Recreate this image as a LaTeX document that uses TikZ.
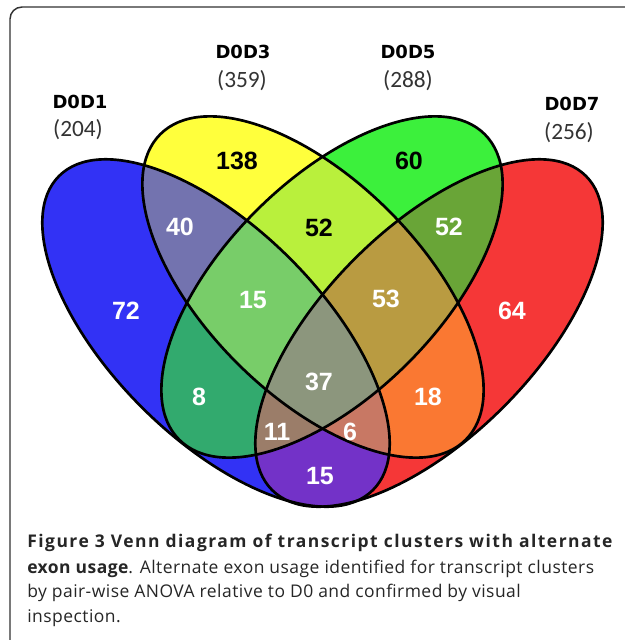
\documentclass[tikz,border=0pt]{standalone}
\usepackage{fontspec}
\setmainfont{Open Sans}
\newfontfamily\numfont{Liberation Sans}
\newfontfamily\lblfont{DejaVu Sans}
\newfontfamily\cntfont{Carlito}
\definecolor{colB}{RGB}{50,50,245}
\definecolor{colY}{RGB}{255,255,60}
\definecolor{colG}{RGB}{60,240,60}
\definecolor{colR}{RGB}{245,55,55}
\definecolor{colBY}{RGB}{115,115,175}
\definecolor{colBG}{RGB}{50,170,110}
\definecolor{colBR}{RGB}{115,50,200}
\definecolor{colYG}{RGB}{185,240,60}
\definecolor{colYR}{RGB}{250,120,50}
\definecolor{colGR}{RGB}{105,165,55}
\definecolor{colBYG}{RGB}{120,205,105}
\definecolor{colBYR}{RGB}{200,120,100}
\definecolor{colBGR}{RGB}{155,125,105}
\definecolor{colYGR}{RGB}{185,155,65}
\definecolor{colAll}{RGB}{140,150,125}
\definecolor{framec}{RGB}{50,50,50}
\def\EL{(0,0) ellipse [x radius=222,y radius=105]}
\def\EI{(0,0) ellipse [x radius=216,y radius=107.5]}
\tikzset{
  eB/.style={shift={(216,333)},rotate=-45},
  eY/.style={shift={(313,287)},rotate=-45},
  eG/.style={shift={(332,287)},rotate=45},
  eR/.style={shift={(429,333)},rotate=45},
  outl/.style={draw=black,line width=2pt},
  num/.style={font={\numfont\bfseries\fontsize{18.75}{20}\selectfont},text=white,inner sep=0pt},
  numk/.style={num,text=black},
  setlbl/.style={font={\lblfont\bfseries\fontsize{13.5}{15}\selectfont},text=black,inner sep=0pt},
  cnt/.style={font={\cntfont\fontsize{17.5}{19}\selectfont},text=black!80,inner sep=0pt},
  captext/.style={font={\fontsize{13.1}{15}\selectfont},text=black!85,inner sep=0pt,anchor=base west}
}
\begin{document}
\begin{tikzpicture}[x=0.75pt,y=-0.75pt]
\useasboundingbox (0,0) rectangle (625,640);
\clip (0,0) rectangle (625,640);
\fill[white] (0,0) rectangle (625,640);
\draw[framec,line width=1.1pt,rounded corners=9pt] (10,7) rectangle (660,680);
% singles
\fill[eB,colB]\EL;
\fill[eY,colY]\EI;
\fill[eG,colG]\EI;
\fill[eR,colR]\EL;
% pairs
\begin{scope}
  \clip[eB]\EL;
  \fill[eY,colBY]\EI;
  \fill[eG,colBG]\EI;
  \fill[eR,colBR]\EL;
\end{scope}
\begin{scope}
  \clip[eY]\EI;
  \fill[eG,colYG]\EI;
  \fill[eR,colYR]\EL;
\end{scope}
\begin{scope}
  \clip[eG]\EI;
  \fill[eR,colGR]\EL;
\end{scope}
% triples
\begin{scope}
  \clip[eB]\EL;
  \begin{scope}
    \clip[eY]\EI;
    \fill[eG,colBYG]\EI;
    \fill[eR,colBYR]\EL;
  \end{scope}
  \begin{scope}
    \clip[eG]\EI;
    \fill[eR,colBGR]\EL;
  \end{scope}
\end{scope}
\begin{scope}
  \clip[eY]\EI;
  \clip[eG]\EI;
  \fill[eR,colYGR]\EL;
\end{scope}
% all four
\begin{scope}
  \clip[eB]\EL;
  \clip[eY]\EI;
  \clip[eG]\EI;
  \fill[eR,colAll]\EL;
\end{scope}
% outlines
\draw[eB,outl]\EL;
\draw[eY,outl]\EI;
\draw[eG,outl]\EI;
\draw[eR,outl]\EL;
% set labels
\node[setlbl] (l1) at (80,102) {D0D1};
\node[cnt] (c1) at (78,130) {(204)};
\node[setlbl] (l3) at (243,52) {D0D3};
\node[cnt] (c3) at (242,81) {(359)};
\node[setlbl] (l5) at (408,52) {D0D5};
\node[cnt] (c5) at (408,81) {(288)};
\node[setlbl] (l7) at (572,104) {D0D7};
\node[cnt] (c7) at (569,133) {(256)};
% region counts
\node[numk] (n138) at (237,161) {138};
\node[numk] (n60) at (409,161) {60};
\node[num] (n40) at (180,227) {40};
\node[numk] (n52a) at (319,228) {52};
\node[num] (n52b) at (449,227) {52};
\node[num] (n72) at (126,311) {72};
\node[num] (n15a) at (253,300) {15};
\node[num] (n53) at (386,299) {53};
\node[num] (n64) at (512,311) {64};
\node[num] (n8) at (199,397) {8};
\node[num] (n37) at (319,382) {37};
\node[num] (n18) at (428,397) {18};
\node[num] (n11) at (277,432) {11};
\node[num] (n6) at (350,432) {6};
\node[num] (n15b) at (320,476) {15};
% caption
\node[captext] (cap1) at (27,547) {\bfseries\addfontfeature{LetterSpace=8.5}Figure 3 Venn diagram of transcript clusters with alternate};
\node[captext] (cap2) at (27,573) {\addfontfeature{LetterSpace=2.7}\textbf{exon usage}. Alternate exon usage identified for transcript clusters};
\node[captext] (cap3) at (27,597) {\addfontfeature{LetterSpace=2.7}by pair-wise ANOVA relative to D0 and confirmed by visual};
\node[captext] (cap4) at (27,622) {\addfontfeature{LetterSpace=2.7}inspection.};
\end{tikzpicture}
\end{document}
